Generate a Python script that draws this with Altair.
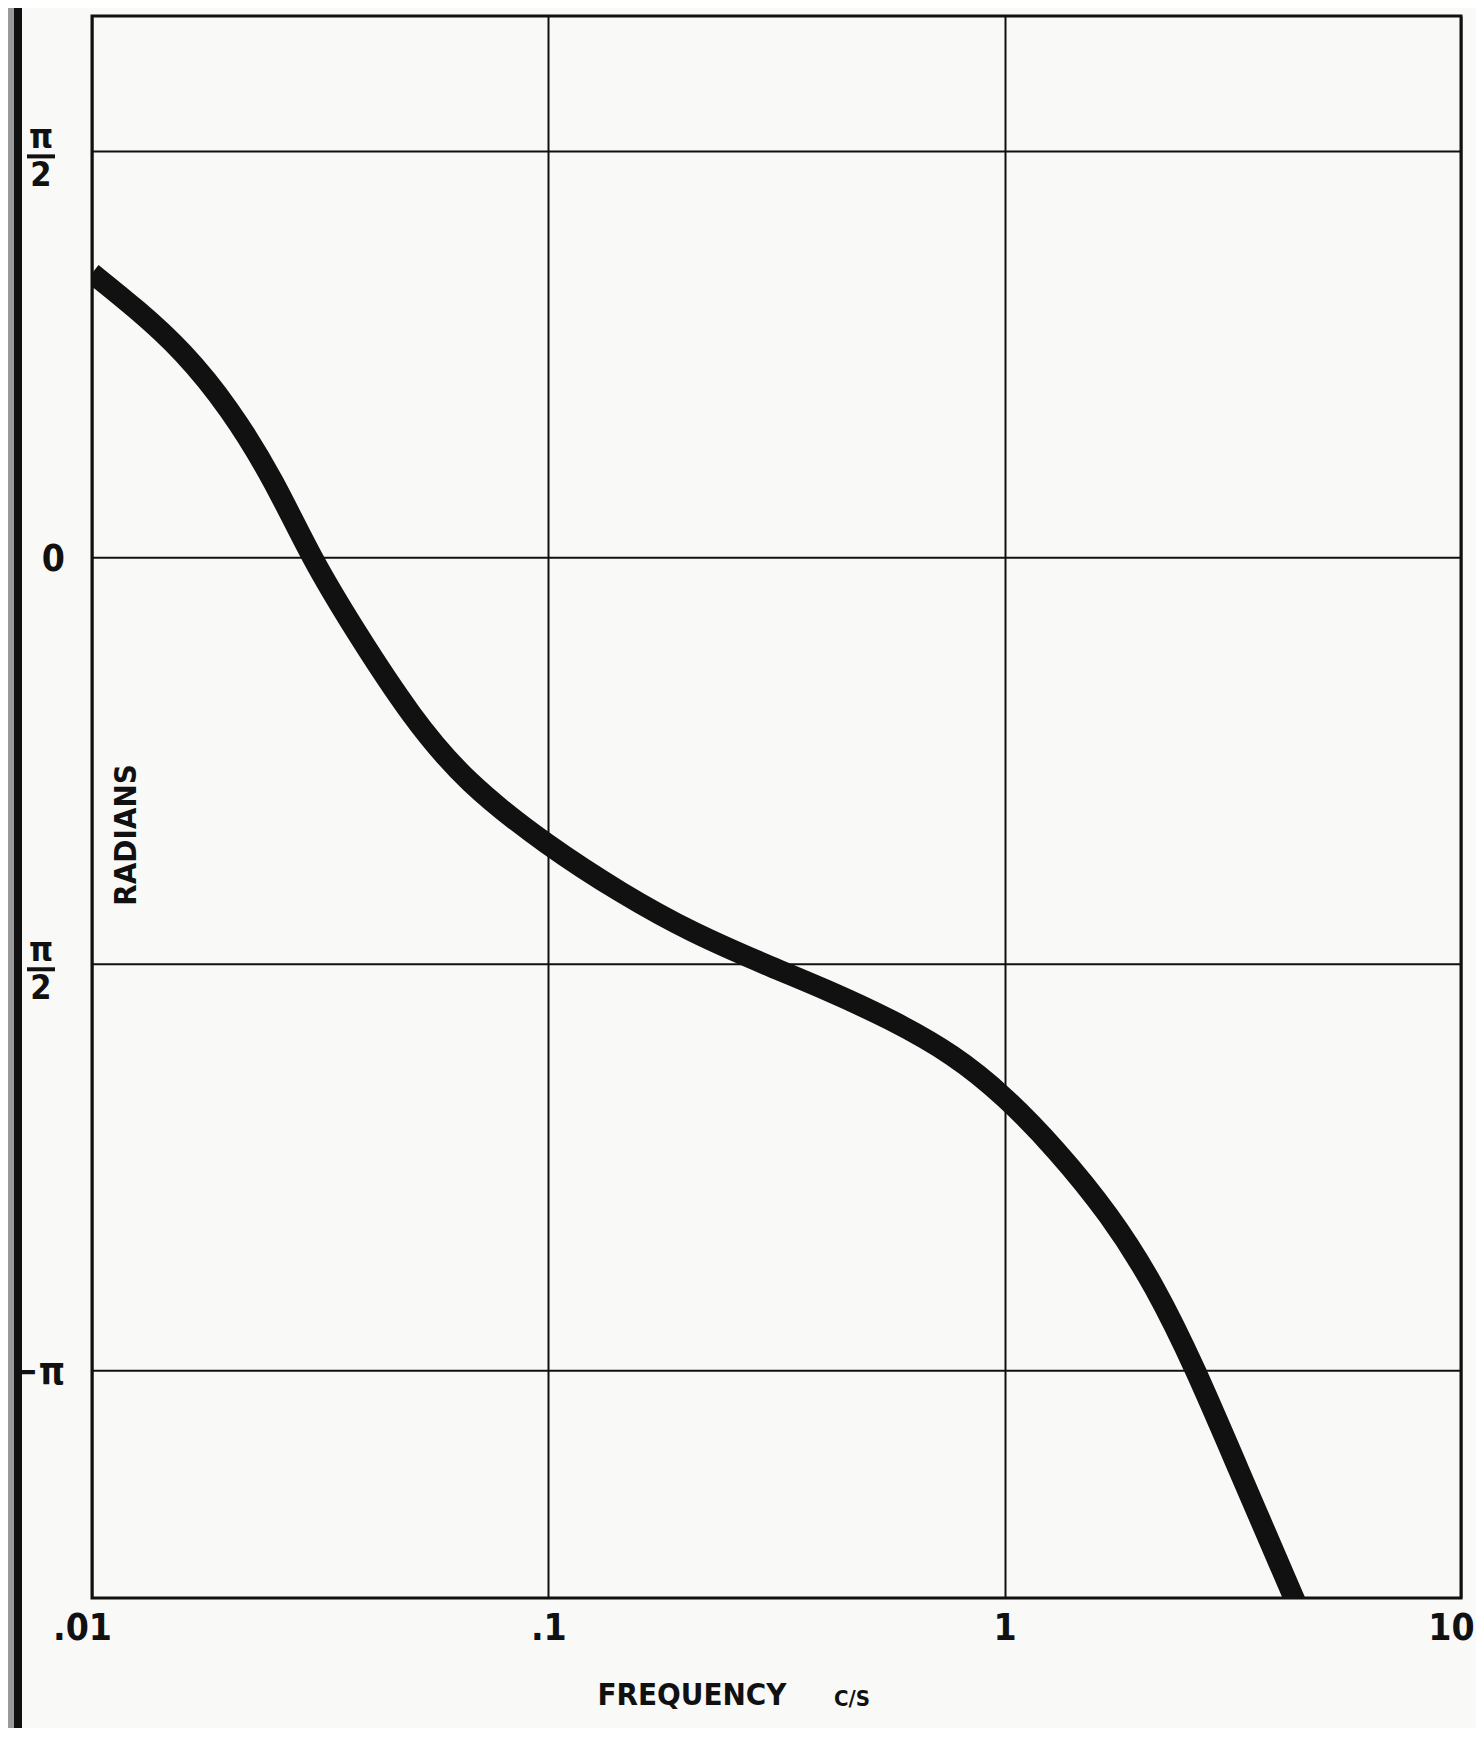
import math
import altair as alt
import pandas as pd

# ---- data ----
freq = [0.01, 0.0126, 0.0158, 0.02, 0.0251, 0.0302, 0.038, 0.050, 0.066, 0.1,
        0.145, 0.204, 0.316, 0.398, 0.562, 0.776, 1.0, 1.29, 1.70, 2.14, 2.63,
        3.16, 4.54]
phase = [1.100, 0.958, 0.801, 0.581, 0.298, 0.0, -0.291, -0.613, -0.869, -1.115,
         -1.298, -1.445, -1.590, -1.662, -1.782, -1.921, -2.080, -2.281, -2.538,
         -2.816, -3.142, -3.471, -4.115]

x_ticks = [0.01, 0.1, 1, 10]
x_labels = [".01", ".1", "1", "10"]
y_grid = [math.pi / 2, 0, -math.pi / 2, -math.pi]
frac_vals = [math.pi / 2, -math.pi / 2]
whole_vals = [0, -math.pi]
whole_text = ["0", "\u2212\u03c0"]

X_TITLE = "FREQUENCY"
X_UNIT = "C/S"
Y_TITLE = "RADIANS"

FONT = "'Liberation Sans Narrow', 'DejaVu Sans Condensed', 'Roboto', sans-serif"
INK = "#111111"
W, H = 1369, 1582

df = pd.DataFrame({"freq": freq, "phase": phase})
frac_df = pd.DataFrame({"v": frac_vals})
whole_df = pd.DataFrame({"v": whole_vals, "t": whole_text})
hgrid_df = pd.DataFrame({"v": y_grid})
one = pd.DataFrame({"a": [0]})

xs = alt.Scale(type="log", domain=[0.01, 10], nice=False)
ys = alt.Scale(domain=[-4.02, 2.094], nice=False, zero=False)

expr = "'" + x_labels[-1] + "'"
for v, lab in reversed(list(zip(x_ticks[:-1], x_labels[:-1]))):
    expr = f"datum.value <= {v * 1.05} ? '{lab}' : " + expr

hgrid = alt.Chart(hgrid_df).mark_rule(color=INK, strokeWidth=2).encode(
    y=alt.Y("v:Q", scale=ys, axis=None)
)

curve = alt.Chart(df).mark_line(
    color=INK, strokeWidth=21, clip=True, interpolate="basis", strokeCap="butt"
).encode(
    x=alt.X("freq:Q", scale=xs, axis=alt.Axis(
        values=x_ticks, labelExpr=expr, grid=True, ticks=False, domain=False,
        title=None, labelFont=FONT, labelFontSize=37, labelFontWeight="bold",
        labelColor=INK, labelPadding=12, gridColor=INK, gridWidth=2,
        labelFlush=False, labelOverlap=False,
        labelOffset={"condition": [{"test": "datum.value <= 0.011", "value": -10},
                                   {"test": "datum.value >= 9", "value": -10}],
                     "value": 0},
    )),
    y=alt.Y("phase:Q", scale=ys, axis=None),
)

num = alt.Chart(frac_df).mark_text(
    text="\u03c0", font=FONT, fontSize=34, fontWeight="bold", dy=-13,
    baseline="middle", align="center", color=INK
).encode(x=alt.value(-51), y=alt.Y("v:Q", scale=ys, axis=None))

bar = alt.Chart(frac_df).mark_tick(
    color=INK, thickness=4, size=28, orient="horizontal", yOffset=5, opacity=1
).encode(
    x=alt.value(-51),
    y=alt.Y("v:Q", scale=ys, axis=None),
)

den = alt.Chart(frac_df).mark_text(
    text="2", font=FONT, fontSize=34, fontWeight="bold", dy=25,
    baseline="middle", align="center", color=INK
).encode(x=alt.value(-51), y=alt.Y("v:Q", scale=ys, axis=None))

whole = alt.Chart(whole_df).mark_text(
    font=FONT, fontSize=37, fontWeight="bold", dy=2,
    baseline="middle", align="right", color=INK
).encode(x=alt.value(-27), y=alt.Y("v:Q", scale=ys, axis=None), text="t:N")

xt = alt.Chart(one).mark_text(
    text=X_TITLE, font=FONT, fontSize=31, fontWeight="bold",
    baseline="middle", align="center", color=INK
).encode(x=alt.value(600), y=alt.value(1680))

xu = alt.Chart(one).mark_text(
    text=X_UNIT, font=FONT, fontSize=22, fontWeight="bold",
    baseline="middle", align="center", color=INK
).encode(x=alt.value(760), y=alt.value(1683))

yt = alt.Chart(one).mark_text(
    text=Y_TITLE, font=FONT, fontSize=31, fontWeight="bold", angle=270,
    baseline="middle", align="center", color=INK
).encode(x=alt.value(35), y=alt.value(819))

strip_grey = alt.Chart(one).mark_rule(color="#9a9a98", strokeWidth=7).encode(
    x=alt.value(-80.5), y=alt.value(-10), y2=alt.value(1760)
)
strip_black = alt.Chart(one).mark_rule(color=INK, strokeWidth=8).encode(
    x=alt.value(-74), y=alt.value(-10), y2=alt.value(1760)
)

chart = alt.layer(
    hgrid, curve, num, bar, den, whole, xt, xu, yt, strip_grey, strip_black
).properties(
    width=W, height=H,
    padding={"left": 84, "top": 8, "right": 15, "bottom": 130},
    autosize=alt.AutoSizeParams(type="none"),
    background="#f9f9f7",
).configure_view(stroke=INK, strokeWidth=3)

chart.save("out.html", embed_options={"renderer": "svg", "actions": False})
